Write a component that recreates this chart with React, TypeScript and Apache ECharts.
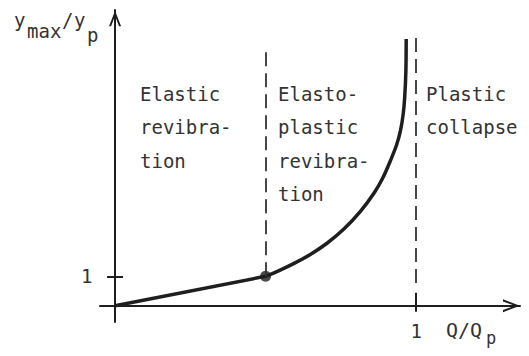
import React, { useEffect, useRef } from 'react';
import * as echarts from 'echarts';

// ---- data ----
const elasticX = [0, 0.5];
const elasticY = [0, 1];
const plasticX = [0.5, 0.55, 0.593, 0.65, 0.704, 0.76, 0.815, 0.862, 0.89, 0.915, 0.935, 0.948, 0.957, 0.962, 0.966, 0.967];
const plasticY = [1, 1.22, 1.43, 1.75, 2.12, 2.6, 3.2, 3.85, 4.35, 4.93, 5.45, 5.94, 6.5, 7.07, 7.97, 9.05];
const transitionPoint = [0.5, 1];
const boundaryX = [0.5, 1];
const boundaryFrom = [1, 0.77];
const boundaryTo = [8.7, 9.32];
const xTickValues = [1];
const yTickValues = [1];
const xRange = [-0.05, 1.345];
const yRange = [-0.55, 10.03];
const regionLabels = ['Elastic\nrevibra-\ntion', 'Elasto-\nplastic\nrevibra-\ntion', 'Plastic\ncollapse'];

const FONT = '"DejaVu Sans Mono", "Liberation Mono", monospace';
const INK = '#1e1e1e';
const TEXT = '#333333';
const ARROW = 'path://M6.5,0 L13,17 L10.8,17 L6.5,5.5 L2.2,17 L0,17 Z';

const W = 529;
const H = 356;

function txt(x: number, baseline: number, text: string, size = 19, lineHeight = 0) {
  const lh = lineHeight || size;
  return {
    type: 'text',
    x,
    y: baseline - 0.34 * size - lh / 2,
    silent: true,
    style: {
      text,
      fontFamily: FONT,
      fontSize: size,
      lineHeight: lh,
      fill: TEXT,
      align: 'left',
      verticalAlign: 'top',
    },
  };
}

export default function App() {
  const ref = useRef<HTMLDivElement>(null);

  useEffect(() => {
    if (!ref.current) return;
    const chart = echarts.init(ref.current, null, { renderer: 'svg' });

    const baseAxis = (min: number, max: number) => ({
      type: 'value',
      min,
      max,
      splitLine: { show: false },
      axisPointer: { show: false },
    });

    const option: any = {
      animation: false,
      backgroundColor: '#ffffff',
      grid: { left: 100, right: 9, top: 10, bottom: 34, outerBoundsMode: 'none', containLabel: false },
      xAxis: [
        {
          ...baseAxis(xRange[0], xRange[1]),
          position: 'bottom',
          axisLine: {
            show: true,
            onZero: true,
            symbol: ['none', ARROW],
            symbolSize: [13, 17],
            symbolOffset: [0, -8.5],
            lineStyle: { color: INK, width: 2 },
          },
          axisTick: { show: true, inside: false, length: 6, customValues: xTickValues, lineStyle: { color: INK, width: 2 } },
          axisLabel: {
            show: true,
            customValues: xTickValues,
            margin: -0.5,
            fontFamily: FONT,
            fontSize: 19,
            color: TEXT,
          },
        },
        {
          ...baseAxis(xRange[0], xRange[1]),
          position: 'top',
          axisLine: { show: false, onZero: true },
          axisTick: { show: true, inside: false, length: 13, customValues: xTickValues, lineStyle: { color: INK, width: 2 } },
          axisLabel: { show: false },
        },
      ],
      yAxis: [
        {
          ...baseAxis(yRange[0], yRange[1]),
          position: 'left',
          axisLine: {
            show: true,
            onZero: true,
            symbol: ['none', ARROW],
            symbolSize: [12, 17],
            symbolOffset: [0, -8.5],
            lineStyle: { color: INK, width: 2 },
          },
          axisTick: { show: true, inside: false, length: 8, customValues: yTickValues, lineStyle: { color: INK, width: 2 } },
          axisLabel: {
            show: true,
            customValues: yTickValues,
            margin: 7.5,
            fontFamily: FONT,
            fontSize: 19,
            color: TEXT,
          },
        },
        {
          ...baseAxis(yRange[0], yRange[1]),
          position: 'right',
          axisLine: { show: false, onZero: true },
          axisTick: { show: true, inside: false, length: 8, customValues: yTickValues, lineStyle: { color: INK, width: 2 } },
          axisLabel: { show: false },
        },
      ],
      series: [
        {
          name: 'elastic',
          type: 'line',
          xAxisIndex: 0,
          yAxisIndex: 0,
          data: elasticX.map((x, i) => [x, elasticY[i]]),
          showSymbol: false,
          lineStyle: { color: INK, width: 3.5 },
          silent: true,
          z: 3,
          markLine: {
            silent: true,
            symbol: ['none', 'none'],
            label: { show: false },
            lineStyle: { color: TEXT, width: 1.8, type: [14, 7] },
            data: boundaryX.map((x, i) => [
              { coord: [x, boundaryFrom[i]] },
              { coord: [x, boundaryTo[i]] },
            ]),
          },
        },
        {
          name: 'elastoplastic',
          type: 'line',
          xAxisIndex: 0,
          yAxisIndex: 0,
          data: plasticX.map((x, i) => [x, plasticY[i]]),
          smooth: 0.3,
          showSymbol: false,
          lineStyle: { color: INK, width: 3.5 },
          silent: true,
          z: 3,
        },
        {
          name: 'transition',
          type: 'scatter',
          xAxisIndex: 0,
          yAxisIndex: 0,
          data: [transitionPoint],
          symbol: 'circle',
          symbolSize: 11,
          itemStyle: { color: INK },
          silent: true,
          z: 4,
        },
      ],
      graphic: [
        txt(140, 100, regionLabels[0], 19, 33.5),
        txt(278, 100, regionLabels[1], 19, 33.5),
        txt(426, 100, regionLabels[2], 19, 33.5),
        // y-axis name: y_max / y_p
        txt(14, 26, 'y', 19),
        txt(27, 37, 'max', 19),
        txt(62, 26, '/', 19),
        txt(74, 26, 'y', 19),
        txt(87, 41, 'p', 19),
        // x-axis name: Q / Q_p
        txt(446, 337, 'Q/Q', 20),
        txt(486, 344, 'p', 17),
      ],
    };

    chart.setOption(option);
    return () => chart.dispose();
  }, []);

  return (
    <div
      ref={ref}
      style={{ position: 'fixed', left: 0, top: 0, width: W, height: H, background: '#fff' }}
    />
  );
}
